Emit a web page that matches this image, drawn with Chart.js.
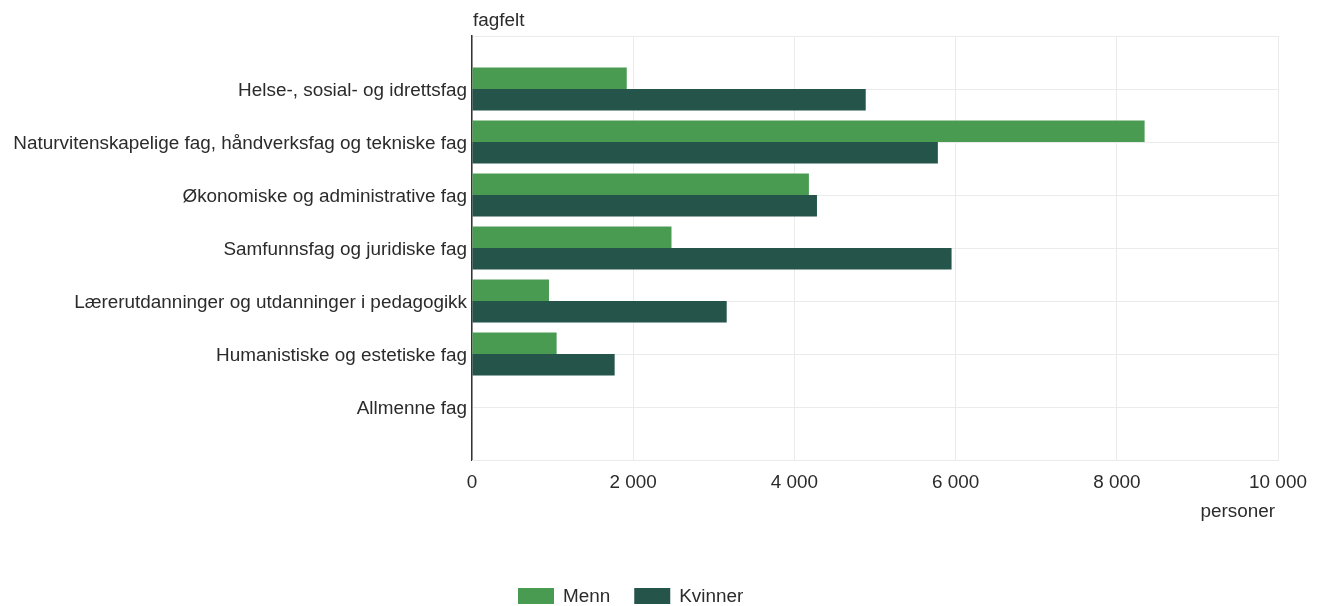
<!DOCTYPE html>
<html>
<head>
<meta charset="utf-8">
<script src="https://cdn.jsdelivr.net/npm/chart.js@4.4.1/dist/chart.umd.min.js"></script>
<style>
  html, body { margin: 0; padding: 0; background: #ffffff; }
  #wrap { width: 1324px; height: 606px; position: relative; }
</style>
</head>
<body>
<div id="wrap"><canvas id="c" width="1324" height="606"></canvas></div>
<script>
const categories = [
  "Helse-, sosial- og idrettsfag",
  "Naturvitenskapelige fag, håndverksfag og tekniske fag",
  "Økonomiske og administrative fag",
  "Samfunnsfag og juridiske fag",
  "Lærerutdanninger og utdanninger i pedagogikk",
  "Humanistiske og estetiske fag",
  "Allmenne fag"
];
const menn    = [1920, 8345, 4180, 2475, 955, 1050, 0];
const kvinner = [4885, 5780, 4280, 5950, 3160, 1770, 0];
const seriesNames = ["Menn", "Kvinner"];
const xTicks = [0, 2000, 4000, 6000, 8000, 10000];
const yTitle = "fagfelt";
const xTitle = "personer";

const FONT = "'Liberation Sans', Arial, sans-serif";
const TEXT = "#2b2b2b";
const FS = 18.9;

// pad categories with blank slots at top and bottom so grid lines fall on label centers
const labels = [""].concat(categories, [""]);
const padData = arr => [null].concat(arr, [null]);

const fmt = v => String(v).replace(/\B(?=(\d{3})+(?!\d))/g, "\u00a0");

const extras = {
  id: "extras",
  afterDraw(chart) {
    const ctx = chart.ctx;
    const area = chart.chartArea;
    ctx.save();
    ctx.font = FS + "px " + FONT;
    ctx.fillStyle = TEXT;
    ctx.textBaseline = "middle";
    ctx.textAlign = "left";
    ctx.fillText(yTitle, area.left + 1, 21);
    ctx.textAlign = "right";
    ctx.fillText(xTitle, area.right - 3, 512);
    // legend
    let x = 518;
    const y = 596;
    chart.data.datasets.forEach(ds => {
      ctx.fillStyle = ds.backgroundColor;
      ctx.fillRect(x, y - 8, 36, 16);
      x += 36 + 9;
      ctx.fillStyle = TEXT;
      ctx.textAlign = "left";
      ctx.fillText(ds.label, x, y + 1);
      x += ctx.measureText(ds.label).width + 24;
    });
    ctx.restore();
  }
};

new Chart(document.getElementById("c"), {
  type: "bar",
  data: {
    labels: labels,
    datasets: [
      { label: seriesNames[0], data: padData(menn), backgroundColor: "#4a9b52",
        categoryPercentage: 0.81, barPercentage: 1.0 },
      { label: seriesNames[1], data: padData(kvinner), backgroundColor: "#25554a",
        categoryPercentage: 0.81, barPercentage: 1.0 }
    ]
  },
  options: {
    indexAxis: "y",
    responsive: false,
    animation: false,
    devicePixelRatio: 1,
    layout: { padding: { top: 36, right: 46, bottom: 0, left: 0 } },
    plugins: { legend: { display: false }, tooltip: { enabled: false } },
    scales: {
      y: {
        type: "category",
        offset: false,
        grid: { offset: false, color: "#ebebeb", lineWidth: 1, drawTicks: false },
        border: { display: true, color: "#333333", width: 1.5 },
        ticks: { color: TEXT, font: { family: FONT, size: FS }, padding: 5, autoSkip: false, labelOffset: 2 },
        afterFit(scale) { scale.width = 472; }
      },
      x: {
        type: "linear",
        min: 0, max: 10000,
        afterBuildTicks(scale) { scale.ticks = xTicks.map(v => ({ value: v })); },
        grid: { color: "#ebebeb", lineWidth: 1, drawTicks: false },
        border: { display: true, color: "#ebebeb", width: 1 },
        ticks: { color: TEXT, font: { family: FONT, size: FS }, padding: 11,
                 callback: v => fmt(v), maxRotation: 0 },
        afterFit(scale) { scale.height = 146; }
      }
    }
  },
  plugins: [extras]
});
</script>
</body>
</html>
